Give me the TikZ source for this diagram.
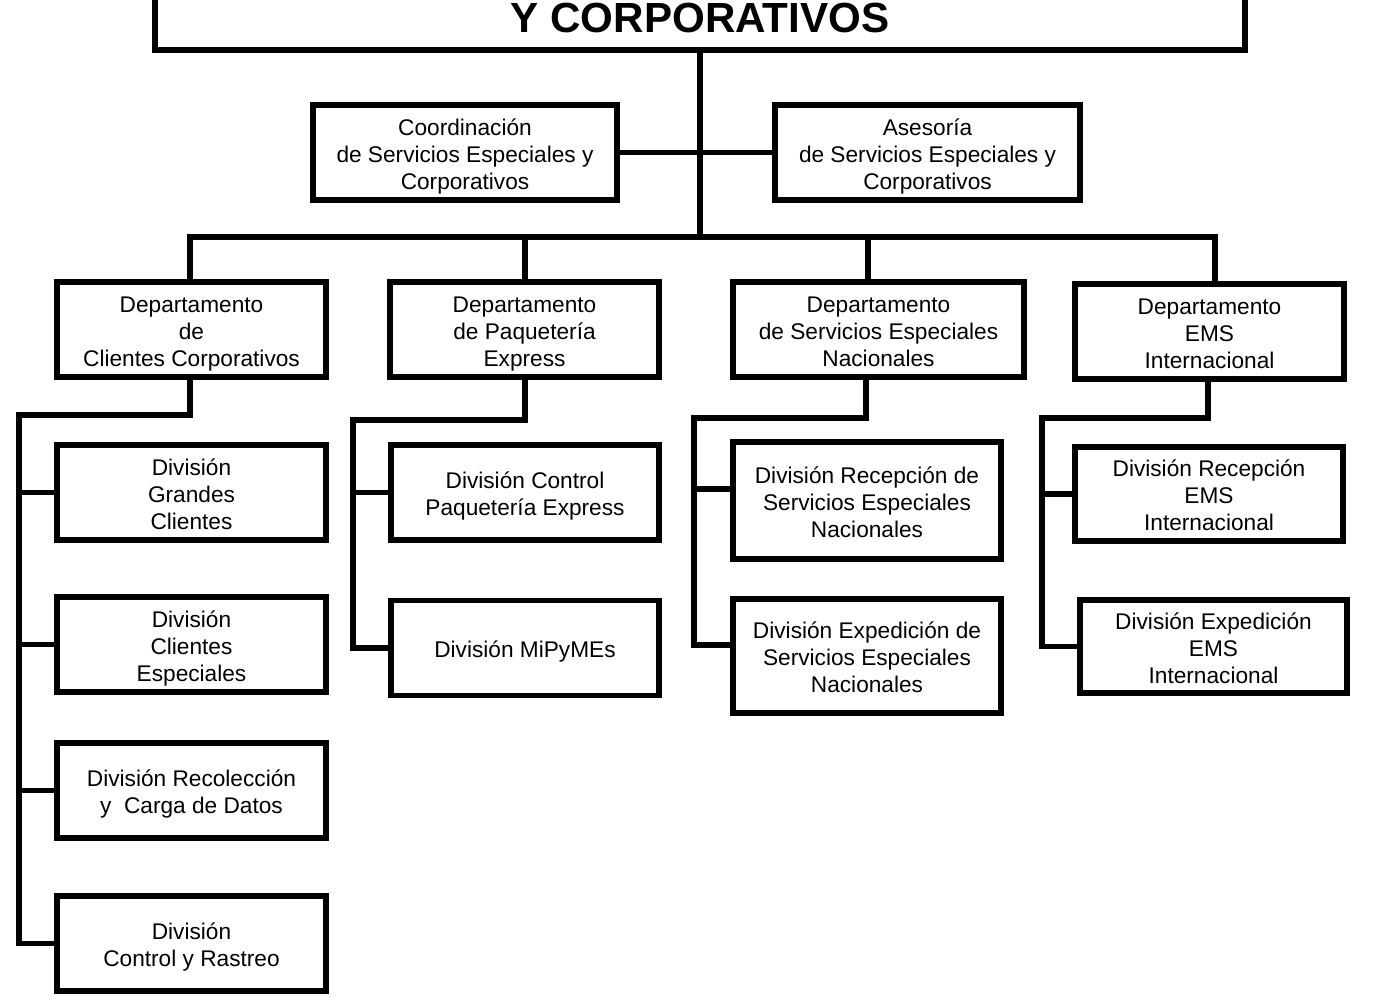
\documentclass[tikz,border=0pt]{standalone}
\usepackage{fontspec}
\setmainfont{Liberation Sans}
\newcommand\tst{\rule{0pt}{18.1pt}}
\newcommand\bst{\rule[-3.6pt]{0pt}{3.6pt}}
\begin{document}
\begin{tikzpicture}[x=0.75pt,y=-0.75pt, line join=miter,
  box/.style 2 args={draw, line width=3.8pt, minimum width=#1*0.75pt, minimum height=#2*0.75pt,
    inner sep=0pt, align=center, font=\fontsize{17}{20.25}\selectfont},
  conn/.style={line width=4.3pt},
  trunkline/.style={line width=5.2pt}]
\useasboundingbox (0,0) rectangle (1394,1001);
\clip (0,0) rectangle (1394,1001);

% title
\node[box={1090}{150}, line width=4.6pt] (title) at (700,-25) {};
\node[font=\fontsize{31.6}{36}\selectfont\bfseries, anchor=base, inner sep=0pt] (titletext) at (700,32) {Y CORPORATIVOS};

% staff
\node[box={304}{95}] (coord) at (465,152.5) {\tst Coordinación\\de Servicios Especiales y\\Corporativos\bst};
\node[box={305}{95}] (ases) at (927.5,152.5) {\tst Asesoría\\de Servicios Especiales y\\Corporativos\bst};

% departments
\node[box={269}{95}] (dept1) at (191.5,329.5) {\tst Departamento\\de\\Clientes Corporativos\bst};
\node[box={269}{95}] (dept2) at (524.5,329.5) {\tst Departamento\\de Paquetería\\Express\bst};
\node[box={291}{95}] (dept3) at (878.5,329.5) {\tst Departamento\\de Servicios Especiales\\Nacionales\bst};
\node[box={269}{95}] (dept4) at (1209.5,331.5) {\tst Departamento\\EMS\\Internacional\bst};

% divisions 1
\node[box={269}{95}] (d11) at (191.5,492.5) {\tst División\\Grandes\\Clientes\bst};
\node[box={269}{95}] (d12) at (191.5,644.5) {\tst División\\Clientes\\Especiales\bst};
\node[box={269}{95}] (d13) at (191.5,790.5) {\tst División Recolección\\y\ \ Carga de Datos\bst};
\node[box={269}{95}] (d14) at (191.5,943.5) {\tst División\\Control y Rastreo\bst};

% divisions 2
\node[box={268}{95}] (d21) at (525,492.5) {\tst División Control\\Paquetería Express\bst};
\node[box={268}{95}] (d22) at (525,648) {\tst División MiPyMEs\bst};

% divisions 3
\node[box={268}{117}] (d31) at (867,500.5) {\tst División Recepción de\\Servicios Especiales\\Nacionales\bst};
\node[box={268}{114}] (d32) at (867,656) {\tst División Expedición de\\Servicios Especiales\\Nacionales\bst};

% divisions 4
\node[box={268}{94}] (d41) at (1209,494) {\tst División Recepción\\EMS\\Internacional\bst};
\node[box={267}{93}] (d42) at (1213.5,646.5) {\tst División Expedición\\EMS\\Internacional\bst};

% trunk and staff line
\coordinate (tb) at (700,237);
\draw[trunkline] (title.south) -- (tb);
\draw[conn] (coord.east) -- (ases.west);

% bus to departments
\coordinate (b1) at (190,237);
\coordinate (b2) at (525,237);
\coordinate (b3) at (868,237);
\coordinate (b4) at (1215,237);
\draw[conn] (b1 |- dept1.north) -- (b1) -- (b4) -- (b4 |- dept4.north);
\draw[conn] (b2) -- (b2 |- dept2.north);
\draw[conn] (b3) -- (b3 |- dept3.north);

% tree 1
\coordinate (s1) at (190,415);
\coordinate (a1) at (19,415);
\draw[conn] (s1 |- dept1.south) -- (s1) -- (a1) -- (a1 |- d14.west) -- (d14.west);
\draw[conn] (d11.west) -- (d11.west -| a1);
\draw[conn] (d12.west) -- (d12.west -| a1);
\draw[conn] (d13.west) -- (d13.west -| a1);

% tree 2
\coordinate (s2) at (525,420);
\coordinate (a2) at (353,420);
\draw[conn] (s2 |- dept2.south) -- (s2) -- (a2) -- (a2 |- d22.west) -- (d22.west);
\draw[conn] (d21.west) -- (d21.west -| a2);

% tree 3
\coordinate (s3) at (866,418);
\coordinate (a3) at (694,418);
\coordinate (c31) at ([yshift=8.6pt]d31.west);
\coordinate (c32) at ([yshift=8.25pt]d32.west);
\draw[conn] (s3 |- dept3.south) -- (s3) -- (a3) -- (a3 |- c32) -- (c32);
\draw[conn] (c31) -- (c31 -| a3);

% tree 4
\coordinate (s4) at (1208,418);
\coordinate (a4) at (1042,418);
\draw[conn] (s4 |- dept4.south) -- (s4) -- (a4) -- (a4 |- d42.west) -- (d42.west);
\draw[conn] (d41.west) -- (d41.west -| a4);
\end{tikzpicture}
\end{document}
